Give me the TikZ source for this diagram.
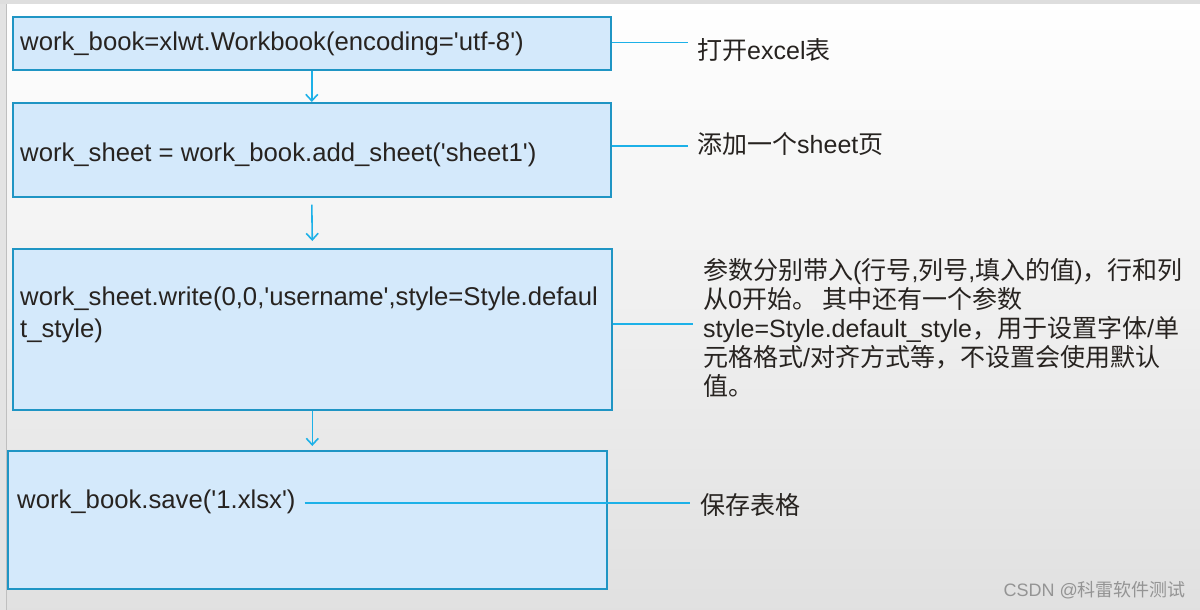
\documentclass[tikz,border=0pt]{standalone}
\usepackage{fontspec}
\setmainfont{Liberation Sans}
\newfontfamily\cjkfont{Noto Sans CJK SC}
\newcommand\zh[1]{{\cjkfont #1}}
\newcommand\sq{\textquotesingle}
\usetikzlibrary{arrows.meta}
\definecolor{boxfill}{HTML}{D4E9FB}
\definecolor{boxline}{HTML}{1F95C4}
\definecolor{linkblue}{HTML}{1DB1E8}
\definecolor{ink}{HTML}{272320}
\begin{document}
\begin{tikzpicture}[x=1pt,y=-1pt,
  box/.style={draw=boxline, fill=boxfill, line width=1.6pt, anchor=north west, inner sep=0pt},
  code/.style={anchor=west, inner sep=0pt, text=ink, align=left,
    font=\fontsize{25.7}{32}\selectfont},
  note/.style={anchor=west, inner sep=0pt, text=ink, align=left,
    font=\fontsize{25}{29}\selectfont},
  link/.style={draw=linkblue, line width=1.8pt},
  flow/.style={link, line width=1.6pt, -{Straight Barb[length=6.5pt,width=12pt]}},
]
% page background
\useasboundingbox (0,0) rectangle (1200,610);
\shade[top color=white, bottom color=black!12] (0,0) rectangle (1200,610);
\fill[black!13] (0,0) rectangle (1200,4);
\fill[black!11] (0,4) rectangle (6,610);
\draw[black!25, line width=1pt] (6,4) -- (6,610);

% process boxes
\node[box, minimum width=598pt, minimum height=53pt]  (b1) at (12,16)  {};
\node[box, minimum width=598pt, minimum height=94pt]  (b2) at (12,102) {};
\node[box, minimum width=599pt, minimum height=161pt] (b3) at (12,248) {};
\node[box, minimum width=599pt, minimum height=138pt] (b4) at (7,450)  {};

% code inside the boxes
\node[code] (t1) at (20,44)  {work\_book=xlwt.Workbook(encoding=\sq utf-8\sq)};
\node[code] (t2) at (20,155) {work\_sheet = work\_book.add\_sheet(\sq sheet1\sq)};
\node[code] (t3) at (20,315) {work\_sheet.write(0,0,\sq username\sq,style=Style.defaul\\t\_style)};
\node[code] (t4) at (17,502) {work\_book.save(\sq 1.xlsx\sq)};

% flow arrows
\draw[flow] (b1.south) -- (b2.north);
\draw[flow] ([yshift=-7pt]b2.south) -- ([yshift=7pt]b3.north);
\draw[flow] (b3.south) -- ([yshift=4pt]b3.south |- b4.north);

% notes
\node[note] (l1) at (697,50)  {\zh{打开}excel\zh{表}};
\node[note] (l2) at (697,144) {\zh{添加一个}sheet\zh{页}};
\node[note, anchor=north west] (l3) at (703,258) {%
\zh{参数分别带入}(\zh{行号},\zh{列号},\zh{填入的值}\kern-1pt)\zh{，行和列}\\
\zh{从}0\zh{开始。 其中还有一个参数}\\
style=Style.default\_style\zh{，用于设置字体}/\zh{单}\\
\zh{元格格式}/\zh{对齐方式等，不设置会使用默认}\\
\zh{值。}};
\node[note] (l4) at (700,505) {\zh{保存表格}};

% leader lines from boxes to notes
\coordinate (e1) at (688,42.5);
\coordinate (e2) at (688,146);
\coordinate (e3) at (693,324);
\coordinate (e4) at (690,503);
\draw[link] (b1.east |- e1) -- (e1);
\draw[link] (b2.east |- e2) -- (e2);
\draw[link] (b3.east |- e3) -- (e3);
\draw[link] ([xshift=9pt]t4.east |- e4) -- (e4);

% watermark
\node[anchor=east, inner sep=0pt, text=black!42, font=\fontsize{18}{18}\selectfont] (wm)
  at (1186,590) {CSDN @\zh{科雷软件测试}};
\end{tikzpicture}
\end{document}
